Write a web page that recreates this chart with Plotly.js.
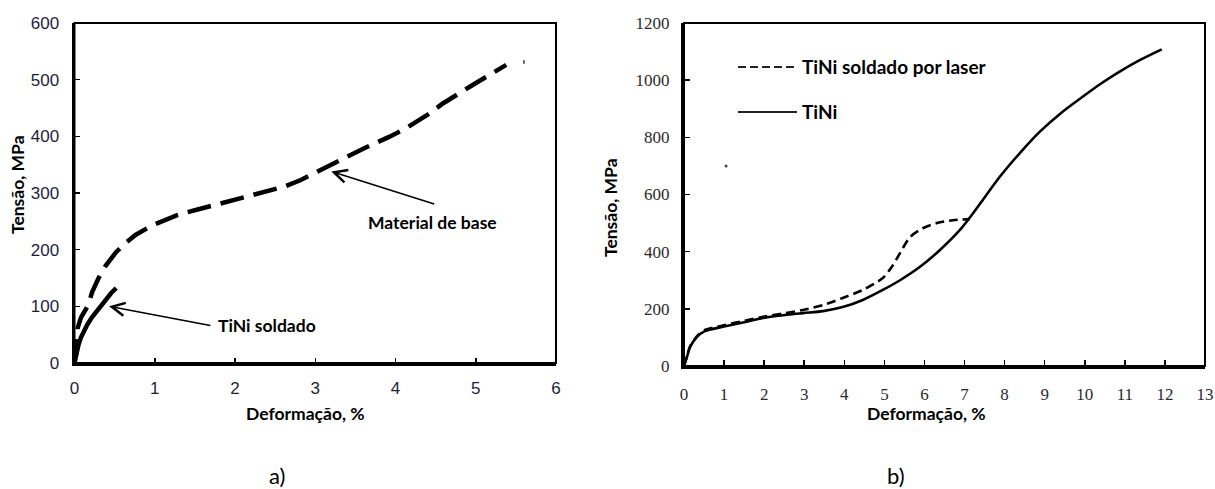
<!DOCTYPE html>
<html>
<head>
<meta charset="utf-8">
<script src="https://cdn.plot.ly/plotly-3.0.1.min.js"></script>
<style>
html,body{margin:0;padding:0;background:#fff;}
#chart{width:1215px;height:489px;}
</style>
</head>
<body>
<div id="chart"></div>
<script>
// ---------- Data: panel a) ----------
const baseX = [0, 0.01, 0.02, 0.04, 0.08, 0.13, 0.17, 0.22, 0.30, 0.39, 0.52, 0.64, 0.76, 0.97, 1.28, 1.51, 1.82, 2.07, 2.36, 2.61, 2.82, 3.10, 3.42, 3.61, 3.92, 4.13, 4.42, 4.59, 4.92, 5.07, 5.38];
const baseY = [0, 15, 35, 62, 80, 92, 102, 125, 150, 172, 196, 212, 226, 243, 261, 270, 282, 291, 302, 311, 323, 343, 364, 379, 399, 414, 440, 458, 487, 499, 526];
const weldX = [0, 0.02, 0.05, 0.08, 0.11, 0.16, 0.22, 0.28, 0.32, 0.39, 0.46, 0.52];
const weldY = [0, 15, 32, 45, 55, 68, 81, 92, 99, 114, 124, 132];
const strayAX = [5.6];
const strayAY = [531];

// ---------- Data: panel b) ----------
const tiniX = [0, 0.08, 0.15, 0.32, 0.52, 0.97, 1.5, 1.97, 2.5, 2.97, 3.47, 3.96, 4.46, 4.96, 5.39, 5.89, 6.38, 6.88, 7.18, 7.43, 7.88, 8.38, 8.88, 9.38, 9.88, 10.37, 10.87, 11.37, 11.92];
const tiniY = [0, 35, 66, 101, 122, 137, 153, 168, 178, 185, 192, 206, 231, 266, 300, 347, 405, 475, 528, 576, 662, 745, 820, 882, 935, 985, 1030, 1070, 1108];
const laserX = [0, 0.08, 0.15, 0.32, 0.52, 0.97, 1.5, 1.97, 2.5, 2.97, 3.47, 3.96, 4.46, 4.96, 5.2, 5.39, 5.64, 5.96, 6.31, 6.71, 7.13];
const laserY = [0, 36, 68, 104, 126, 142, 158, 172, 184, 196, 213, 238, 266, 308, 350, 395, 451, 482, 500, 510, 514];
const strayBX = [1.05];
const strayBY = [700];

// ---------- Labels ----------
const yTitle = "Tensão, MPa";
const xTitle = "Deformação, %";
const labelBase = "Material de base";
const labelWeld = "TiNi soldado";
const legendLaser = "TiNi soldado por laser";
const legendTiNi = "TiNi";
const panelA = "a)";
const panelB = "b)";
const ticksA_x = [0, 1, 2, 3, 4, 5, 6];
const ticksA_y = [0, 100, 200, 300, 400, 500, 600];
const ticksB_x = [0, 1, 2, 3, 4, 5, 6, 7, 8, 9, 10, 11, 12, 13];
const ticksB_y = [0, 200, 400, 600, 800, 1000, 1200];

// pixel -> paper helpers (layout placement only)
const W = 1215, H = 489;
const px = v => v / W;
const py = v => 1 - v / H;

const LATO = "Lato, Open Sans, sans-serif";
const f = (size) => ({family: LATO, size: size, color: "#000"});
const sansTick = {family: "Liberation Sans, Arial, sans-serif", size: 17, color: "#1e1e3a"};
const serifTick = {family: "Liberation Serif, Times New Roman, serif", size: 17, color: "#2a2a2a"};
const B = s => "<b>" + s + "</b>";

const traces = [
  {x: baseX, y: baseY, xaxis: "x", yaxis: "y", mode: "lines", line: {color: "#000", width: 4.5, dash: "24px,10px"}, showlegend: false, hoverinfo: "skip"},
  {x: weldX, y: weldY, xaxis: "x", yaxis: "y", mode: "lines", line: {color: "#000", width: 4.5}, showlegend: false, hoverinfo: "skip"},
  {x: strayAX, y: strayAY, xaxis: "x", yaxis: "y", mode: "markers", marker: {color: "#333", size: 2.5, symbol: "line-ns", line: {width: 1.5, color: "#333"}}, showlegend: false, hoverinfo: "skip"},
  {x: laserX, y: laserY, xaxis: "x2", yaxis: "y2", mode: "lines", line: {color: "#000", width: 2.6, dash: "9px,5px", shape: "spline", smoothing: 0.8}, showlegend: false, hoverinfo: "skip"},
  {x: tiniX, y: tiniY, xaxis: "x2", yaxis: "y2", mode: "lines", line: {color: "#000", width: 2.6, shape: "spline", smoothing: 0.8}, showlegend: false, hoverinfo: "skip"},
  {x: strayBX, y: strayBY, xaxis: "x2", yaxis: "y2", mode: "markers", marker: {color: "#444", size: 3}, showlegend: false, hoverinfo: "skip"}
];

const axisCommon = {showgrid: false, zeroline: false, showline: true, linecolor: "#000", linewidth: 3, ticks: "inside", tickcolor: "#000", tickwidth: 1.5, ticklen: 5, fixedrange: true};

const layout = {
  width: W, height: H,
  margin: {l: 0, r: 0, t: 0, b: 0},
  paper_bgcolor: "#fff", plot_bgcolor: "#fff",
  xaxis: Object.assign({}, axisCommon, {domain: [px(74.5), px(556)], range: [0, 6], tickvals: ticksA_x, ticktext: ticksA_x.map(String), tickfont: sansTick, anchor: "y", ticklabelstandoff: 8}),
  yaxis: Object.assign({}, axisCommon, {domain: [py(363), py(23)], range: [0, 600], tickvals: ticksA_y, ticktext: ticksA_y.map(String), tickfont: sansTick, anchor: "x", ticklabelstandoff: 9}),
  xaxis2: Object.assign({}, axisCommon, {domain: [px(684), px(1205)], range: [0, 13], tickvals: ticksB_x, ticktext: ticksB_x.map(String), tickfont: serifTick, anchor: "y2", ticklen: 6, ticklabelstandoff: 11}),
  yaxis2: Object.assign({}, axisCommon, {domain: [py(366), py(23)], range: [0, 1200], tickvals: ticksB_y, ticktext: ticksB_y.map(String), tickfont: serifTick, anchor: "x2", ticklen: 6, ticklabelstandoff: 8}),
  shapes: [
    {type: "rect", xref: "x domain", yref: "y domain", x0: 0, x1: 1, y0: 0, y1: 1, line: {color: "#000", width: 2}},
    {type: "rect", xref: "x2 domain", yref: "y2 domain", x0: 0, x1: 1, y0: 0, y1: 1, line: {color: "#000", width: 2}},
    {type: "line", xref: "paper", yref: "paper", x0: px(738), x1: px(795), y0: py(67), y1: py(67), line: {color: "#222", width: 2.2, dash: "8px,4px"}},
    {type: "line", xref: "paper", yref: "paper", x0: px(738), x1: px(797), y0: py(112), y1: py(112), line: {color: "#222", width: 2.2}}
  ],
  annotations: [
    // arrows panel a)
    {xref: "x", yref: "y", x: 3.2, y: 338, axref: "x", ayref: "y", ax: 4.52, ay: 279, text: " ", showarrow: true, arrowhead: 5, arrowsize: 1.7, arrowwidth: 1.5, arrowcolor: "#000"},
    {xref: "x", yref: "y", x: 0.43, y: 100, axref: "x", ayref: "y", ax: 1.73, ay: 65, text: " ", showarrow: true, arrowhead: 5, arrowsize: 1.7, arrowwidth: 1.5, arrowcolor: "#000"},
    {xref: "paper", yref: "paper", x: px(432), y: py(222), text: B(labelBase), showarrow: false, font: f(17.5), xanchor: "center", yanchor: "middle"},
    {xref: "paper", yref: "paper", x: px(267), y: py(325), text: B(labelWeld), showarrow: false, font: f(17.5), xanchor: "center", yanchor: "middle"},
    // legend texts panel b)
    {xref: "paper", yref: "paper", x: px(800), y: py(67), text: B(legendLaser), showarrow: false, font: f(19), xanchor: "left", yanchor: "middle"},
    {xref: "paper", yref: "paper", x: px(800), y: py(112), text: B(legendTiNi), showarrow: false, font: f(19), xanchor: "left", yanchor: "middle"},
    // axis titles
    {xref: "paper", yref: "paper", x: px(18), y: py(185), text: B(yTitle), textangle: -90, showarrow: false, font: f(17.5), xanchor: "center", yanchor: "middle"},
    {xref: "paper", yref: "paper", x: px(610), y: py(208), text: B(yTitle), textangle: -90, showarrow: false, font: f(17.5), xanchor: "center", yanchor: "middle"},
    {xref: "paper", yref: "paper", x: px(306), y: py(413), text: B(xTitle), showarrow: false, font: f(17.5), xanchor: "center", yanchor: "middle"},
    {xref: "paper", yref: "paper", x: px(926), y: py(413), text: B(xTitle), showarrow: false, font: f(17.5), xanchor: "center", yanchor: "middle"},
    // panel letters
    {xref: "paper", yref: "paper", x: px(277), y: py(475), text: panelA, showarrow: false, font: f(22), xanchor: "center", yanchor: "middle"},
    {xref: "paper", yref: "paper", x: px(896), y: py(475), text: panelB, showarrow: false, font: f(22), xanchor: "center", yanchor: "middle"}
  ]
};

Plotly.newPlot("chart", traces, layout, {displayModeBar: false, staticPlot: true});
</script>
</body>
</html>
